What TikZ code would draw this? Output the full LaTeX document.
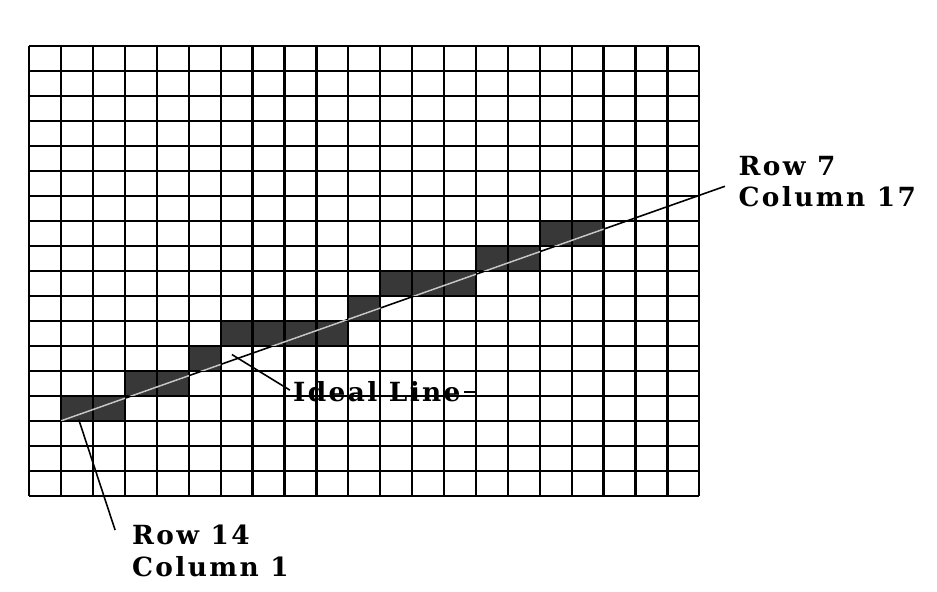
\documentclass[tikz,border=0pt]{standalone}
\usepackage{fontspec}
\newfontfamily\lblfont[LetterSpace=9]{DejaVu Serif}
\usepackage{tikz}
\usetikzlibrary{positioning, calc}

\begin{document}
\begin{tikzpicture}[
    x=0.638cm, y=-0.5cm,
    pixel/.style={fill=black!78},
    gridline/.style={draw, line width=1.3pt},
    label/.style={font=\lblfont\bfseries\fontsize{15}{18.2}\selectfont, align=left, inner sep=0pt},
    leader/.style={draw, line width=0.9pt}
]
    \useasboundingbox (-0.918,-1.828) rectangle (28.45,21.81);

    % Lit pixels
    \foreach \r/\a/\b in {14/1/2, 13/3/4, 12/5/5, 11/6/9, 10/10/10, 9/11/13, 8/14/15, 7/16/17}
        \fill[pixel] (\a,\r) rectangle (\b+1,\r+1);

    % Raster grid
    \foreach \i in {0,...,21}
        \draw[gridline] (\i,0) -- (\i,18);
    \foreach \j in {0,...,18}
        \draw[gridline] (0,\j) -- (21,\j);

    % Labels
    \node[label, anchor=base west] (last) at (22.22,6.45) {Row 7\\Column 17};
    \node[label, anchor=base west] (first label) at (3.21,21.24) {Row 14\\Column 1};
    \node[label, anchor=base west] (ideal) at (8.26,14.24) {Ideal Line};

    \coordinate (first) at (1,15);
    \coordinate (on line) at (6.35,12.35);
    \coordinate (in first) at (1.55,14.95);
    \coordinate (below) at (2.69,19.37);
    \coordinate[right=0.3cm of ideal.east] (tail);

    % Ideal line
    \draw[leader, shorten >=8pt] (first) -- (last.west);
    \foreach \r/\a/\b in {14/1/2, 13/3/4, 12/5/5, 11/6/9, 10/10/10, 9/11/13, 8/14/15, 7/16/17} {
        \begin{scope}
            \clip (\a,\r) rectangle (\b+1,\r+1);
            \draw[leader, gray!45, shorten >=8pt] (first) -- (last.west);
        \end{scope}
    }

    % Leaders
    \draw[leader, shorten >=2pt] (on line) -- (ideal.west);
    \draw[leader, shorten <=2pt] (ideal.east) -- (tail);
    \draw[leader] (in first) -- (below);
\end{tikzpicture}
\end{document}
